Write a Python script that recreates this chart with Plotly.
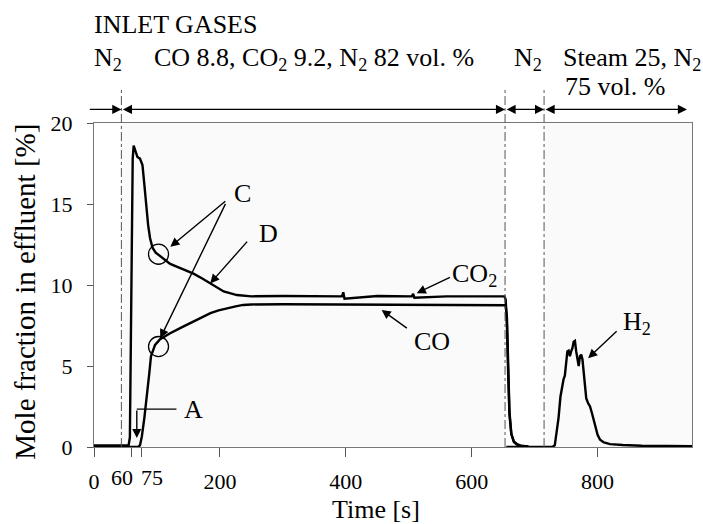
import plotly.graph_objects as go

# Effluent composition measured at the reactor outlet
co2_time = [0, 20, 40, 55, 57, 58.5, 60, 61.5, 63, 66, 69, 73, 77, 80, 83, 86, 89, 93, 98, 103,
            121, 140, 158, 172, 185, 206, 227, 250, 300, 350, 394, 396, 398, 450, 505, 507, 509,
            560, 620, 652, 654, 656, 658, 660, 663, 667, 672, 678, 690]
co2_frac = [0.1, 0.1, 0.1, 0.1, 0.6, 6.0, 14.0, 17.8, 18.6, 18.2, 17.9, 17.8, 17.4, 16.2, 14.8, 13.7,
            12.9, 12.3, 12.0, 11.85, 11.3, 11.0, 10.7, 10.4, 10.1, 9.6, 9.38, 9.3, 9.32, 9.3, 9.3,
            9.55, 9.15, 9.32, 9.3, 9.45, 9.22, 9.3, 9.32, 9.3, 9.1, 7.5, 4.5, 2.0, 0.8, 0.35, 0.18, 0.08, 0.04]

co_time = [0, 40, 70, 73, 76, 80, 84, 88, 90.5, 94, 97, 105, 121, 140, 158, 172, 185, 198, 211,
           225, 237, 250, 300, 400, 500, 600, 654, 656, 658, 660, 663, 667, 672, 678, 690]
co_frac = [0.0, 0.0, 0.0, 0.1, 0.65, 1.8, 3.1, 4.6, 5.6, 6.0, 6.3, 6.65, 7.02, 7.4, 7.74, 8.0, 8.26,
           8.43, 8.56, 8.68, 8.77, 8.8, 8.81, 8.8, 8.81, 8.8, 8.75, 8.0, 5.0, 2.2, 0.8, 0.3, 0.15, 0.06, 0.03]

h2_time = [655, 700, 728, 732, 735, 738, 741, 744, 746, 748, 750, 752, 754, 756, 758, 760, 762,
           764, 766, 768, 770, 772, 774, 776, 778, 780, 782, 785, 788, 791, 794, 797, 800, 804,
           810, 820, 840, 870, 900, 950]
h2_frac = [0.0, 0.0, 0.0, 0.1, 0.9, 1.8, 3.1, 3.8, 4.2, 4.4, 5.4, 5.9, 5.95, 5.6, 5.9, 6.1, 6.5,
           6.55, 5.9, 5.3, 5.0, 5.6, 5.7, 5.4, 4.6, 3.7, 3.0, 2.7, 2.5, 2.1, 1.6, 1.1, 0.75, 0.45,
           0.28, 0.18, 0.12, 0.08, 0.06, 0.05]

# Inlet gas switching times [s]
switch_times = [43.5, 653, 715]
feed_end = 942

x_ticks = [0, 60, 75, 200, 400, 600, 800]
x_tick_text = ["0", "", "", "200", "400", "600", "800"]
y_ticks = [0, 5, 10, 15, 20]

FONT = "Liberation Serif, Times New Roman, serif"
INK = "black"

fig = go.Figure()
for t, v in [(co2_time, co2_frac), (co_time, co_frac), (h2_time, h2_frac)]:
    fig.add_trace(go.Scatter(x=t, y=v, mode="lines",
                             line=dict(color=INK, width=2.4),
                             hoverinfo="skip", showlegend=False))

shapes = []
# shaded feed periods
for x0, x1 in [(switch_times[0], switch_times[1]), (switch_times[2], 950)]:
    shapes.append(dict(type="rect", xref="x", yref="paper", x0=x0, x1=x1, y0=0, y1=1,
                       fillcolor="#fafafa", line=dict(width=0), layer="below"))
# switching markers
for xs in switch_times:
    shapes.append(dict(type="line", xref="x", yref="paper", x0=xs, x1=xs, y0=0, y1=1.107,
                       line=dict(color="#555", width=1, dash="dashdot")))
# circles marking the slope change
for cy in [11.9, 6.2]:
    shapes.append(dict(type="circle", xref="x", yref="y", x0=102.5 - 15.9, x1=102.5 + 15.9,
                       y0=cy - 0.62, y1=cy + 0.62, line=dict(color=INK, width=1.3)))
# elbow of the "A" pointer
shapes.append(dict(type="line", xref="x", yref="y", x0=68, x1=131, y0=2.34, y1=2.34,
                   line=dict(color=INK, width=1.3)))

ann = []


def arrow(x, y, ax, ay, yref="y", side="end"):
    d = dict(x=x, y=y, xref="x", yref=yref, axref="x", text="", showarrow=True,
             arrowhead=2, arrowsize=1.3, arrowwidth=1.4, arrowcolor=INK, arrowside=side,
             startarrowhead=2, startarrowsize=1.3, standoff=0, startstandoff=0)
    if yref == "paper":
        d.update(ax=ax, ay=0, ayref="pixel")
    else:
        d.update(ax=ax, ay=ay, ayref="y")
    return d


def label(x, y, text, xref="x", yref="y", size=26):
    return dict(x=x, y=y, xref=xref, yref=yref, text=text, showarrow=False,
                xanchor="left", yanchor="middle", font=dict(family=FONT, size=size, color=INK))


# period arrows
ann.append(arrow(switch_times[0], 1.042, -9, 0, yref="paper", side="end"))
ann.append(arrow(switch_times[1], 1.042, switch_times[0], 0, yref="paper", side="end+start"))
ann.append(arrow(switch_times[2], 1.042, switch_times[1], 0, yref="paper", side="end+start"))
ann.append(arrow(feed_end, 1.042, switch_times[2], 0, yref="paper", side="end+start"))

# header text
ann.append(label(-0.003, 1.304, "INLET GASES", xref="paper", yref="paper"))
ann.append(label(-0.003, 1.196, "N<sub>2</sub>", xref="paper", yref="paper"))
ann.append(label(92.5, 1.196, "CO 8.8, CO<sub>2</sub> 9.2, N<sub>2</sub> 82 vol. %", yref="paper"))
ann.append(label(664, 1.196, "N<sub>2</sub>", yref="paper"))
ann.append(label(741.8, 1.196, "Steam 25, N<sub>2</sub>", yref="paper"))
ann.append(label(745, 1.113, "75 vol. %", yref="paper"))

# curve labels and pointers
ann.append(label(219, 15.65, "C"))
ann.append(arrow(121.3, 12.36, 211, 15.25))
ann.append(arrow(105.2, 6.71, 210, 15.1))
ann.append(label(258.7, 13.18, "D"))
ann.append(arrow(184.6, 10.1, 245.4, 12.77))
ann.append(label(139.5, 2.34, "A"))
ann.append(arrow(68, 0.55, 68, 2.34))
ann.append(label(566, 10.62, "CO<sub>2</sub>"))
ann.append(arrow(512.7, 9.49, 567.8, 10.51))
ann.append(label(504.7, 6.51, "CO"))
ann.append(arrow(457, 8.46, 499.4, 7.27))
ann.append(label(836.5, 7.64, "H<sub>2</sub>"))
ann.append(arrow(785, 5.48, 832.7, 7.23))

# offset tick labels for the close 60 / 75 ticks
for xv, txt in [(45, "60"), (92.5, "75")]:
    ann.append(dict(x=xv, y=-0.094, xref="x", yref="paper", text=txt, showarrow=False,
                    xanchor="center", yanchor="middle", font=dict(family=FONT, size=22, color=INK)))

# axis titles
ann.append(dict(x=0.472, y=-0.192, xref="paper", yref="paper", text="Time [s]", showarrow=False,
                xanchor="center", yanchor="middle", font=dict(family=FONT, size=26, color=INK)))
ann.append(dict(x=-0.115, y=0.48, xref="paper", yref="paper", text="Mole fraction in effluent [%]",
                showarrow=False, textangle=-90, xanchor="center", yanchor="middle",
                font=dict(family=FONT, size=29, color=INK)))

fig.update_layout(
    width=703, height=524,
    margin=dict(l=94, r=11, t=123, b=77, pad=0),
    paper_bgcolor="white", plot_bgcolor="white",
    shapes=shapes, annotations=ann,
    font=dict(family=FONT, size=22, color=INK),
)
fig.update_xaxes(range=[0, 950], tickmode="array", tickvals=x_ticks, ticktext=x_tick_text,
                 ticks="outside", ticklen=9, tickcolor="#555", tickwidth=1.3,
                 ticklabelstandoff=5, showgrid=False, zeroline=False,
                 showline=True, linecolor="#777", linewidth=1.4, mirror=True, automargin=False,
                 tickfont=dict(family=FONT, size=22, color=INK))
fig.update_yaxes(range=[0, 20], tickmode="array", tickvals=y_ticks,
                 ticks="outside", ticklen=6, tickcolor="#555", tickwidth=1.3,
                 ticklabelstandoff=10, showgrid=False, zeroline=False,
                 showline=True, linecolor="#777", linewidth=1.4, mirror=True, automargin=False,
                 tickfont=dict(family=FONT, size=22, color=INK))

fig.write_html("out.html")
